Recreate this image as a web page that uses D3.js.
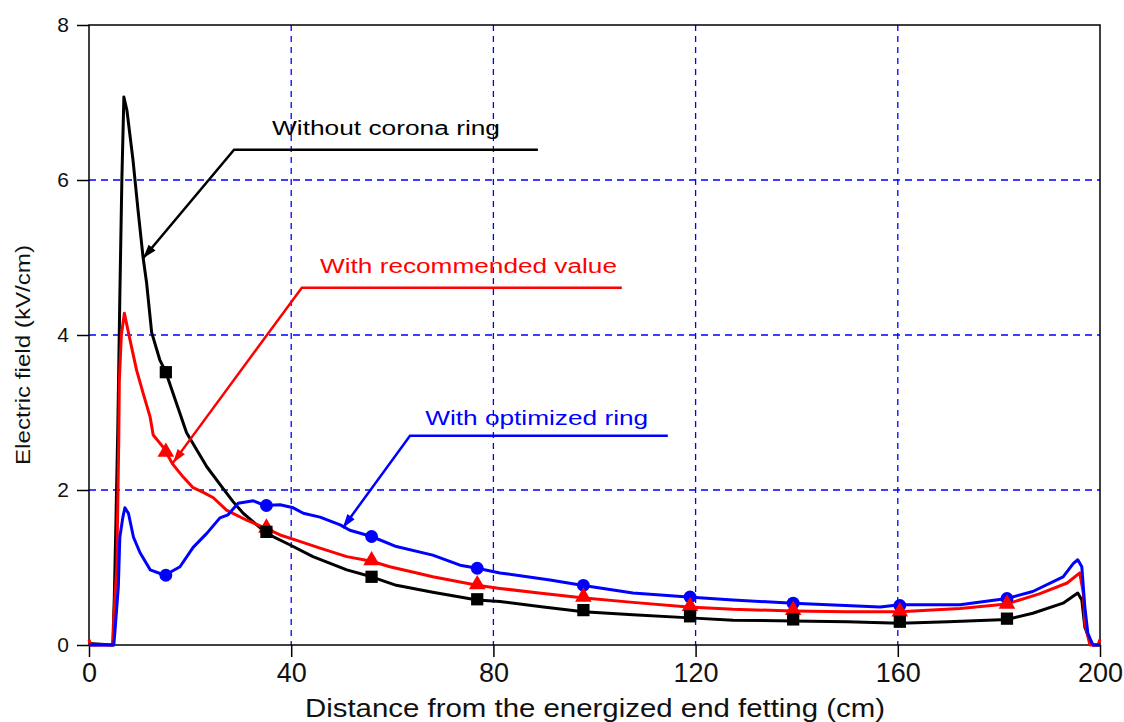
<!DOCTYPE html>
<html>
<head>
<meta charset="utf-8">
<script src="https://cdn.jsdelivr.net/npm/d3@7"></script>
<style>
  body { margin: 0; background: #fff; }
  text { font-family: Arial, "Liberation Sans", sans-serif; }
</style>
</head>
<body>
<svg id="chart" width="1124" height="722"></svg>
<script>
// data: [distance (cm), field (kV/cm)]
const withoutRing = [
  [0, 0.02], [4.7, 0], [5.0, 0.6], [5.3, 1.5], [5.7, 2.8], [6.1, 4.5], [6.5, 6.0], [6.9, 7.07],
  [7.5, 6.9], [8.7, 6.26], [9.7, 5.61], [10.7, 5.0], [11.4, 4.67], [12.4, 4.03], [14.0, 3.68],
  [15.2, 3.52], [17.3, 3.12], [19.3, 2.74], [21.3, 2.52], [23.3, 2.3], [26.5, 2.02], [28.5, 1.85],
  [30.5, 1.7], [33.2, 1.55], [35.1, 1.44], [39.8, 1.29], [44.3, 1.14], [51, 0.97], [55.9, 0.88],
  [60.8, 0.77], [68, 0.68], [76.8, 0.58], [81.3, 0.56], [89.9, 0.49], [97.8, 0.43], [107.6, 0.39],
  [118.9, 0.35], [127.4, 0.32], [139.3, 0.31], [150, 0.3], [160.4, 0.28], [170, 0.3], [181.6, 0.33],
  [186.7, 0.41], [192.7, 0.54], [195.6, 0.67], [196.4, 0.58], [197, 0.23], [198, 0.06], [198.6, 0], [200, 0],
]
const recommended = [
  [0, 0.07], [0.3, 0], [4.8, 0], [4.9, 0.35], [5.5, 1.0], [5.9, 2.7], [6.0, 3.4], [6.4, 4.0], [7.0, 4.28],
  [8.1, 3.94], [9.4, 3.55], [10.7, 3.25], [12.1, 2.94], [12.7, 2.71], [14.7, 2.55], [16.6, 2.33],
  [18.6, 2.17], [20.6, 2.03], [22.6, 1.97], [24.6, 1.9], [27.2, 1.74], [31.2, 1.61], [34.8, 1.51],
  [37.8, 1.42], [41.1, 1.35], [45.7, 1.25], [51, 1.14], [55.9, 1.08], [59.5, 1.01], [65.5, 0.92],
  [68, 0.88], [76.8, 0.77], [81.3, 0.73], [89, 0.67], [97.5, 0.61], [107.6, 0.55], [118.5, 0.49],
  [127.4, 0.46], [139.3, 0.44], [150, 0.43], [160.4, 0.43], [172.3, 0.47], [181.6, 0.53], [188, 0.66],
  [193.5, 0.8], [196, 0.93], [196.7, 0.67], [197, 0.28], [198, 0], [199.6, 0], [200, 0.07],
]
const optimized = [
  [0, 0], [4.9, 0], [5.1, 0.15], [5.8, 0.75], [6.1, 1.39], [6.7, 1.65], [7.1, 1.77], [7.8, 1.7],
  [8.8, 1.39], [10.1, 1.19], [12.1, 0.97], [15.0, 0.9], [18, 1.01], [20.6, 1.26], [23.3, 1.44],
  [25.9, 1.64], [27.5, 1.68], [29.5, 1.83], [32.5, 1.86], [34.8, 1.8], [37.8, 1.81], [40.4, 1.77],
  [42.4, 1.7], [45.7, 1.65], [49.7, 1.55], [51.6, 1.48], [55.9, 1.4], [60.8, 1.27], [68, 1.16],
  [73.4, 1.03], [76.8, 0.99], [81.3, 0.93], [91.2, 0.84], [97.5, 0.77], [107.6, 0.67], [118.5, 0.62],
  [127.4, 0.58], [139.3, 0.54], [156.5, 0.49], [160.4, 0.52], [172.3, 0.52], [181.6, 0.6], [186.7, 0.69],
  [192.7, 0.88], [194.7, 1.05], [195.6, 1.1], [196.4, 1.01], [197, 0.49], [197.6, 0.15], [198.6, 0], [200, 0],
]

// symbol positions along each curve
const markerX = [15.2, 35.1, 55.9, 76.8, 97.8, 118.9, 139.3, 160.4, 181.6]
const squareY = [3.52, 1.46, 0.88, 0.59, 0.45, 0.37, 0.33, 0.3, 0.34]
const triangleY = [2.49, 1.51, 1.09, 0.78, 0.62, 0.5, 0.45, 0.43, 0.53]
const circleY = [0.9, 1.8, 1.4, 0.99, 0.77, 0.62, 0.54, 0.51, 0.6]

const xTicks = [0, 40, 80, 120, 160, 200]
const yTicks = [0, 2, 4, 6, 8]

// annotation: label, leader line (start of horizontal, end of horizontal, arrow tip) in data units
const labels = ['Without corona ring', 'With recommended value', 'With optimized ring']
const labelColors = ['#000', '#ff0000', '#0000ff']
const labelAt = [[36.2, 6.58], [45.7, 4.8], [66.5, 2.84]]
const labelWidth = [228, 297, 223]
const leaderY = [6.39, 4.61, 2.7]
const leaderX = [[28.7, 88.8], [42.1, 105.4], [63.5, 114.5]]
const arrowTip = [[10.7, 4.99], [16.6, 2.35], [50.2, 1.51]]

const svg = d3.select('#chart')
const x = d3.scaleLinear().domain([0, 200]).range([89, 1100])
const y = d3.scaleLinear().domain([0, 8]).range([645, 25])

// grid
svg.append('g')
  .selectAll('line')
  .data(xTicks.slice(1, -1))
  .join('line')
  .attr('x1', (d) => x(d)).attr('x2', (d) => x(d))
  .attr('y1', y(8)).attr('y2', y(0))
  .attr('stroke', '#0000ff').attr('stroke-width', 1.3).attr('stroke-dasharray', '6,5')
svg.append('g')
  .selectAll('line')
  .data(yTicks.slice(1, -1))
  .join('line')
  .attr('x1', x(0)).attr('x2', x(200))
  .attr('y1', (d) => y(d)).attr('y2', (d) => y(d))
  .attr('stroke', '#0000ff').attr('stroke-width', 1.3).attr('stroke-dasharray', '7,5')

// axes
const xAxis = svg.append('g')
  .attr('transform', `translate(0,${y(0)})`)
  .call(d3.axisBottom(x).tickValues(xTicks).tickSize(12).tickPadding(6).tickFormat(d3.format('d')))
xAxis.select('.domain').remove()
xAxis.selectAll('line').attr('stroke', '#000').attr('stroke-width', 1.5)
xAxis.selectAll('text')
  .attr('font-size', 27).attr('fill', '#111')
  .attr('font-family', 'Arial, "Liberation Sans", sans-serif')

const yAxis = svg.append('g')
  .attr('transform', `translate(${x(0)},0)`)
  .call(d3.axisLeft(y).tickValues(yTicks).tickSize(12).tickPadding(8).tickFormat(d3.format('d')))
yAxis.select('.domain').remove()
yAxis.selectAll('line').attr('stroke', '#000').attr('stroke-width', 1.5)
yAxis.selectAll('text')
  .attr('font-size', 21).attr('fill', '#111')
  .attr('font-family', 'Arial, "Liberation Sans", sans-serif')

// frame
svg.append('rect')
  .attr('x', x(0)).attr('y', y(8))
  .attr('width', x(200) - x(0)).attr('height', y(0) - y(8))
  .attr('fill', 'none').attr('stroke', '#000').attr('stroke-width', 1.5)

// axis titles
svg.append('text')
  .attr('x', 595).attr('y', 717)
  .attr('text-anchor', 'middle')
  .attr('font-size', 25).attr('fill', '#111')
  .attr('textLength', 580).attr('lengthAdjust', 'spacingAndGlyphs')
  .text('Distance from the energized end fetting (cm)')
svg.append('text')
  .attr('transform', 'translate(30,355) rotate(-90)')
  .attr('text-anchor', 'middle')
  .attr('font-size', 21).attr('fill', '#111')
  .attr('textLength', 220).attr('lengthAdjust', 'spacingAndGlyphs')
  .text('Electric field (kV/cm)')

// curves
const line = d3.line().x((d) => x(d[0])).y((d) => y(d[1]))
const series = [
  { data: withoutRing, color: '#000' },
  { data: recommended, color: '#ff0000' },
  { data: optimized, color: '#0000ff' },
]
series.forEach((s) => {
  svg.append('path')
    .datum(s.data)
    .attr('d', line)
    .attr('fill', 'none')
    .attr('stroke', s.color)
    .attr('stroke-width', 3)
    .attr('stroke-linejoin', 'round')
})

// symbols
const sym = (type, size) => d3.symbol().type(type).size(size)
svg.append('g')
  .selectAll('path')
  .data(markerX.map((d, i) => [d, circleY[i]]))
  .join('path')
  .attr('transform', (d) => `translate(${x(d[0])},${y(d[1])})`)
  .attr('d', sym(d3.symbolCircle, 130))
  .attr('fill', '#0000ff')
svg.append('g')
  .selectAll('path')
  .data(markerX.map((d, i) => [d, triangleY[i]]))
  .join('path')
  .attr('transform', (d) => `translate(${x(d[0])},${y(d[1])})`)
  .attr('d', sym(d3.symbolTriangle, 120))
  .attr('fill', '#ff0000')
svg.append('g')
  .selectAll('path')
  .data(markerX.map((d, i) => [d, squareY[i]]))
  .join('path')
  .attr('transform', (d) => `translate(${x(d[0])},${y(d[1])})`)
  .attr('d', sym(d3.symbolSquare, 150))
  .attr('fill', '#000')

// annotations with leader lines and arrowheads
labels.forEach((label, i) => {
  const color = labelColors[i]
  const x0 = x(leaderX[i][0])
  const x1 = x(leaderX[i][1])
  const ly = y(leaderY[i])
  const tx = x(arrowTip[i][0])
  const ty = y(arrowTip[i][1])
  svg.append('polyline')
    .attr('points', `${x1},${ly} ${x0},${ly} ${tx},${ty}`)
    .attr('fill', 'none')
    .attr('stroke', color)
    .attr('stroke-width', 2.5)
  const ang = Math.atan2(ty - ly, tx - x0)
  const len = 14
  const half = 4.5
  const bx = tx - len * Math.cos(ang)
  const by = ty - len * Math.sin(ang)
  const px = -Math.sin(ang) * half
  const py = Math.cos(ang) * half
  svg.append('path')
    .attr('d', `M${tx},${ty}L${bx + px},${by + py}L${bx - px},${by - py}Z`)
    .attr('fill', color)
  svg.append('text')
    .attr('x', x(labelAt[i][0])).attr('y', y(labelAt[i][1]))
    .attr('font-size', 20)
    .attr('fill', color)
    .attr('textLength', labelWidth[i]).attr('lengthAdjust', 'spacingAndGlyphs')
    .text(label)
})
</script>
</body>
</html>
